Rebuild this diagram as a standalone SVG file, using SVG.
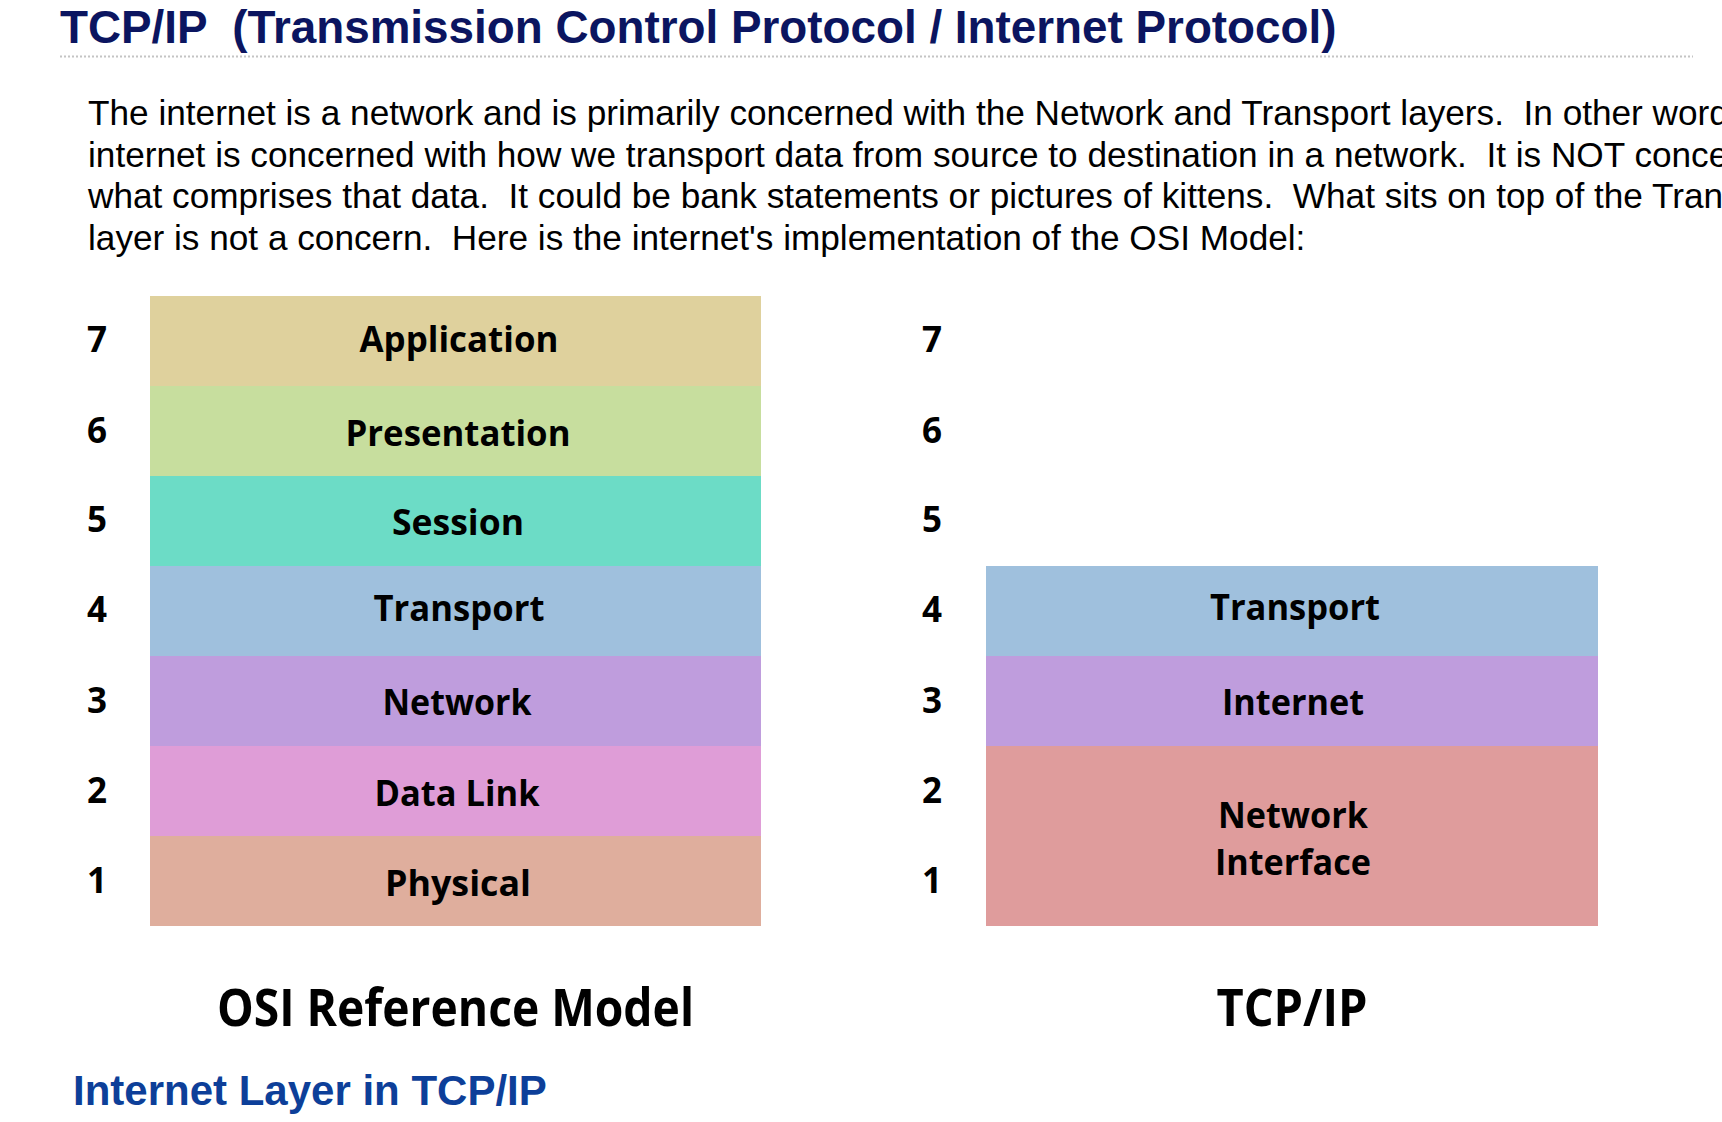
<svg xmlns="http://www.w3.org/2000/svg" width="1722" height="1122" viewBox="0 0 1722 1122">
<style>
.title{font-family:"Liberation Sans",Arial,sans-serif;font-weight:700;font-size:45.8px;fill:#0b1560;white-space:pre}
.para{font-family:"Liberation Sans",Arial,sans-serif;font-size:35.2px;fill:#000;white-space:pre}
.h2{font-family:"Liberation Sans",Arial,sans-serif;font-weight:700;font-size:42px;fill:#0d3f99}
.lbl{font-family:"Open Sans","Noto Sans",sans-serif;font-weight:700;font-size:35px;fill:#000;text-anchor:middle}
.num{font-family:"Open Sans","Noto Sans",sans-serif;font-weight:700;font-size:35px;fill:#000;text-anchor:middle}
.cap{font-family:"Open Sans","Noto Sans",sans-serif;font-weight:700;font-size:52px;fill:#000;text-anchor:middle}
</style>
<rect width="1722" height="1122" fill="#fff"/>
<g id="header">
<text class="title" x="60" y="43">TCP/IP  (Transmission Control Protocol / Internet Protocol)</text>
<line x1="60" y1="56.5" x2="1693" y2="56.5" stroke="#c4c4c4" stroke-width="2" stroke-dasharray="2,2"/>
</g>
<g id="paragraph">
<text class="para" x="88" y="125">The internet is a network and is primarily concerned with the Network and Transport layers.  In other word</text>
<text class="para" x="88" y="166.5">internet is concerned with how we transport data from source to destination in a network.  It is NOT conce</text>
<text class="para" x="88" y="208">what comprises that data.  It could be bank statements or pictures of kittens.  What sits on top of the Tran</text>
<text class="para" x="88" y="249.5">layer is not a concern.  Here is the internet's implementation of the OSI Model:</text>
</g>
<g id="osi-numbers">
<text class="num" x="97" y="352">7</text>
<text class="num" x="97" y="443">6</text>
<text class="num" x="97" y="532">5</text>
<text class="num" x="97" y="622">4</text>
<text class="num" x="97" y="713">3</text>
<text class="num" x="97" y="803">2</text>
<text class="num" x="97" y="893">1</text>
</g>
<g id="osi-application"><rect x="150" y="296" width="611" height="90" fill="#dfd19d"/><text class="lbl" x="459" y="352" textLength="199" lengthAdjust="spacingAndGlyphs">Application</text></g>
<g id="osi-presentation"><rect x="150" y="386" width="611" height="90" fill="#c7de9e"/><text class="lbl" x="458" y="446" textLength="225" lengthAdjust="spacingAndGlyphs">Presentation</text></g>
<g id="osi-session"><rect x="150" y="476" width="611" height="90" fill="#6cdcc6"/><text class="lbl" x="458" y="535" textLength="132" lengthAdjust="spacingAndGlyphs">Session</text></g>
<g id="osi-transport"><rect x="150" y="566" width="611" height="90" fill="#9fc0dd"/><text class="lbl" x="459" y="621" textLength="171" lengthAdjust="spacingAndGlyphs">Transport</text></g>
<g id="osi-network"><rect x="150" y="656" width="611" height="90" fill="#bf9ddd"/><text class="lbl" x="457" y="715" textLength="149" lengthAdjust="spacingAndGlyphs">Network</text></g>
<g id="osi-datalink"><rect x="150" y="746" width="611" height="90" fill="#df9dd7"/><text class="lbl" x="457" y="806" textLength="165" lengthAdjust="spacingAndGlyphs">Data Link</text></g>
<g id="osi-physical"><rect x="150" y="836" width="611" height="90" fill="#dfae9d"/><text class="lbl" x="458" y="896" textLength="146" lengthAdjust="spacingAndGlyphs">Physical</text></g>
<g id="tcp-numbers">
<text class="num" x="932" y="352">7</text>
<text class="num" x="932" y="443">6</text>
<text class="num" x="932" y="532">5</text>
<text class="num" x="932" y="622">4</text>
<text class="num" x="932" y="713">3</text>
<text class="num" x="932" y="803">2</text>
<text class="num" x="932" y="893">1</text>
</g>
<g id="tcp-transport"><rect x="986" y="566" width="612" height="90" fill="#9fc0dd"/><text class="lbl" x="1295" y="620" textLength="170" lengthAdjust="spacingAndGlyphs">Transport</text></g>
<g id="tcp-internet"><rect x="986" y="656" width="612" height="90" fill="#bf9ddd"/><text class="lbl" x="1293" y="715" textLength="142" lengthAdjust="spacingAndGlyphs">Internet</text></g>
<g id="tcp-netif"><rect x="986" y="746" width="612" height="180" fill="#df9c9c"/><text class="lbl" x="1293" y="828" textLength="150" lengthAdjust="spacingAndGlyphs">Network</text><text class="lbl" x="1293" y="875" textLength="156" lengthAdjust="spacingAndGlyphs">Interface</text></g>
<g id="captions">
<text class="cap" x="455.5" y="1026" textLength="477" lengthAdjust="spacingAndGlyphs">OSI Reference Model</text>
<text class="cap" x="1292" y="1026" textLength="151" lengthAdjust="spacingAndGlyphs">TCP/IP</text>
</g>
<g id="connectors"></g>
<g id="footer-heading"><text class="h2" x="73" y="1105">Internet Layer in TCP/IP</text></g>
</svg>
